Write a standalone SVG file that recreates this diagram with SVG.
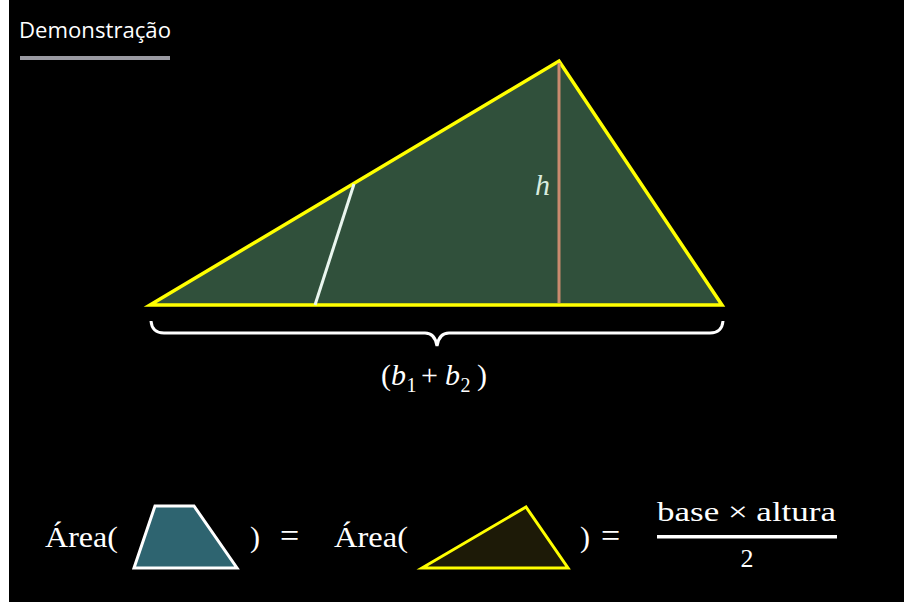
<svg xmlns="http://www.w3.org/2000/svg" width="906" height="604" viewBox="0 0 906 604">
<style>
.math{font-family:"Liberation Serif","DejaVu Serif",serif;fill:#ffffff}
.title{font-family:"Open Sans","Noto Sans",sans-serif;fill:#ffffff;font-size:22px}
</style>
<rect x="0" y="0" width="906" height="604" fill="#ffffff"/>
<rect x="9" y="0" width="895" height="602" fill="#000000"/>
<g id="title">
<text class="title" x="19" y="38" textLength="152" lengthAdjust="spacingAndGlyphs">Demonstração</text>
<rect x="20" y="56" width="150" height="4" fill="#9a9aa2"/>
</g>
<g id="main-triangle">
<polygon points="150,305 559,61 722,305" fill="#30503b" stroke="#ffff00" stroke-width="3.5" stroke-linejoin="miter"/>
</g>
<g id="connectors">
<line id="cut-line" x1="354" y1="184" x2="315" y2="305" stroke="#eaf6ef" stroke-width="3"/>
<line id="height-line" x1="559" y1="63" x2="559" y2="303" stroke="#c98b6e" stroke-width="3"/>
<path id="brace" d="M151,321 Q152,333 164,333 L425,333 Q435,333 437,346 Q439,333 449,333 L710,333 Q722,333 723,321" fill="none" stroke="#ffffff" stroke-width="3"/>
</g>
<g id="h-label">
<text class="math" x="535" y="195" font-size="30" font-style="italic" style="fill:#d8ecdf">h</text>
</g>
<g id="base-label">
<text class="math" y="385" font-size="30"><tspan x="381">(</tspan><tspan x="391" font-style="italic">b</tspan><tspan x="406.5" font-size="20" dy="7">1</tspan><tspan x="421" dy="-7">+</tspan><tspan x="445" font-style="italic">b</tspan><tspan x="460.5" font-size="20" dy="7">2</tspan><tspan x="477" dy="-7">)</tspan></text>
</g>
<g id="equation">
<text class="math" x="45" y="547" font-size="30" textLength="73" lengthAdjust="spacingAndGlyphs">Área(</text>
<polygon id="trapezoid" points="155,506 194,506 237,568 134,568" fill="#2e6470" stroke="#ffffff" stroke-width="3"/>
<text class="math" x="250" y="547" font-size="30">)</text>
<text class="math" x="280" y="547" font-size="34">=</text>
<text class="math" x="334" y="547" font-size="30" textLength="74" lengthAdjust="spacingAndGlyphs">Área(</text>
<polygon id="small-triangle" points="422,568 526,507 568,568" fill="#1d1a07" stroke="#ffff00" stroke-width="3"/>
<text class="math" x="580" y="547" font-size="30">)</text>
<text class="math" x="601" y="547" font-size="34">=</text>
<text class="math" x="657" y="521" font-size="28" textLength="179" lengthAdjust="spacingAndGlyphs">base × altura</text>
<rect x="657" y="535" width="180" height="3.5" fill="#ffffff"/>
<text class="math" x="747" y="567" font-size="26" text-anchor="middle">2</text>
</g>
</svg>
